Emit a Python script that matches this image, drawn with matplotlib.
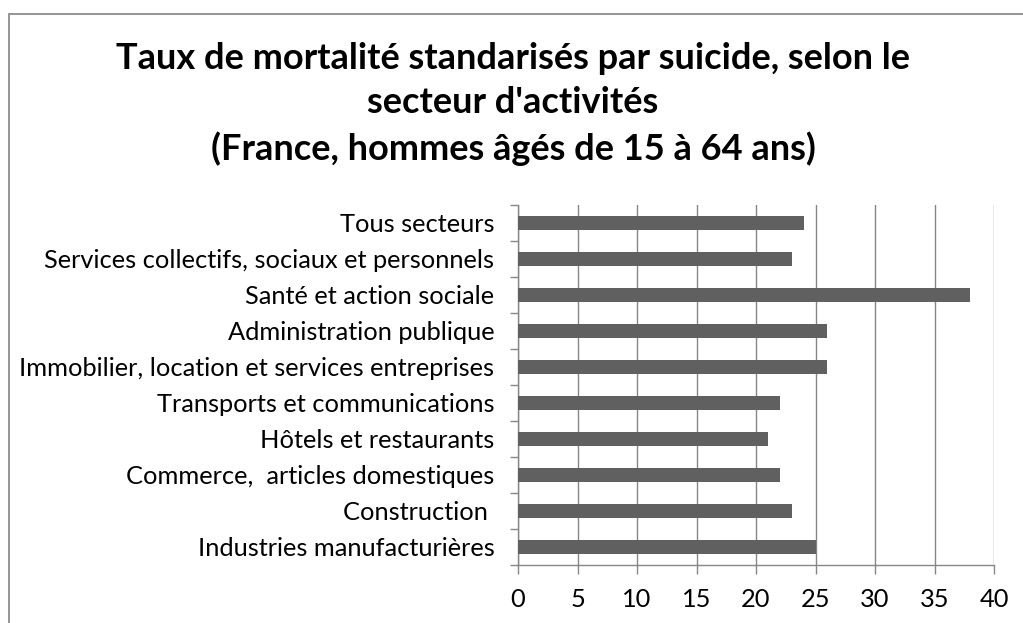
import numpy as np
import matplotlib.pyplot as plt
from matplotlib.patches import Rectangle

categories = ["Industries manufacturières", "Construction ", "Commerce,  articles domestiques",
              "Hôtels et restaurants", "Transports et communications",
              "Immobilier, location et services entreprises", "Administration publique",
              "Santé et action sociale", "Services collectifs, sociaux et personnels",
              "Tous secteurs"]
values = [25, 23, 22, 21, 22, 26, 26, 38, 23, 24]
xticks = [0, 5, 10, 15, 20, 25, 30, 35, 40]
title = ("Taux de mortalité standarisés par suicide, selon le\n"
         "secteur d'activités\n"
         "(France, hommes âgés de 15 à 64 ans)")

plt.rcParams['font.family'] = ['Lato', 'DejaVu Sans']
grey = '#868686'

fig = plt.figure(figsize=(10.23, 6.23), dpi=100)
ax = fig.add_axes([518/1023, 1 - 565/623, (994 - 518)/1023, (565 - 205)/623])

# cadre du graphique (coupé à droite et en bas)
fig.patches.append(Rectangle((9/1023, -0.5), 2, 0.5 + 1 - 14/623, transform=fig.transFigure,
                             fill=False, edgecolor='#8c8c8c', linewidth=1.3))

y = np.arange(len(categories))
ax.barh(y, values, height=0.4, color='#606060', zorder=3)

ax.set_xlim(0, 40)
ax.set_ylim(-0.5, len(categories) - 0.5)
ax.set_xticks(xticks)
ax.set_xticklabels([str(t) for t in xticks], fontsize=18.3)
ax.set_yticks(y)
ax.set_yticklabels(categories, fontsize=18.3)
ax.set_yticks(np.arange(len(categories) + 1) - 0.5, minor=True)
ax.tick_params(axis='y', which='major', length=0, pad=17)
ax.tick_params(axis='y', which='minor', length=6, color=grey, width=1)
ax.tick_params(axis='x', length=6.5, color=grey, width=1, pad=10)

ax.grid(axis='x', color=grey, linewidth=1, zorder=0)
for s in ['top', 'right']:
    ax.spines[s].set_visible(False)
for s in ['left', 'bottom']:
    ax.spines[s].set_color(grey)
    ax.spines[s].set_linewidth(1)

fig.text(513/1023, 1 - 42/623, title, ha='center', va='top', fontsize=26,
         fontweight='bold', linespacing=1.42)

fig.savefig('out.png', dpi=100)
